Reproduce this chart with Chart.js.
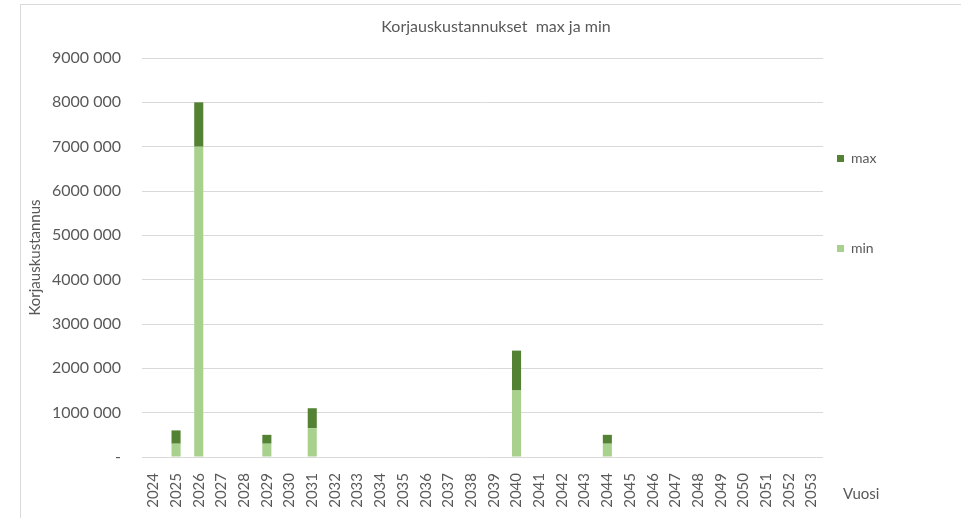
<!DOCTYPE html>
<html>
<head>
<meta charset="utf-8">
<script src="https://cdn.jsdelivr.net/npm/chart.js@4"></script>
<style>
  html, body { margin: 0; padding: 0; background: #fff; }
  #wrap { width: 961px; height: 518px; position: relative; }
</style>
</head>
<body>
<div id="wrap"><canvas id="repair-chart" width="961" height="518"></canvas></div>
<script>
// Vuodet (x-akseli)
var years = ['2024', '2025', '2026', '2027', '2028', '2029', '2030', '2031', '2032', '2033',
  '2034', '2035', '2036', '2037', '2038', '2039', '2040', '2041', '2042', '2043',
  '2044', '2045', '2046', '2047', '2048', '2049', '2050', '2051', '2052', '2053'];

// min-osuus (alaosa pinosta)
var minValues = [null, 300000, 7000000, null, null, 300000, null, 650000, null, null,
  null, null, null, null, null, null, 1500000, null, null, null,
  300000, null, null, null, null, null, null, null, null, null];

// max-osuus (pinon yläosa, max - min)
var maxValues = [null, 300000, 1000000, null, null, 200000, null, 450000, null, null,
  null, null, null, null, null, null, 900000, null, null, null,
  200000, null, null, null, null, null, null, null, null, null];

// y-akselin tekstit Excelin muotoilulla
var yTickLabels = {
  0: '-', 1000000: '1000 000', 2000000: '2000 000', 3000000: '3000 000', 4000000: '4000 000',
  5000000: '5000 000', 6000000: '6000 000', 7000000: '7000 000', 8000000: '8000 000', 9000000: '9000 000'
};

var textColor = '#595959';
var gridColor = '#d9d9d9';
var fontFamily = 'Lato, "Open Sans", sans-serif';

// Otsikko, legenda, akselin nimi ja kehys piirretään itse
var extrasPlugin = {
  id: 'extras',
  afterDraw: function (chart) {
    var ctx = chart.ctx;
    ctx.save();
    // kehys
    ctx.strokeStyle = gridColor;
    ctx.lineWidth = 1;
    ctx.strokeRect(20.5, 4.5, 960, 600);

    ctx.fillStyle = textColor;
    ctx.textBaseline = 'middle';
    ctx.font = '16px ' + fontFamily;
    ctx.textAlign = 'center';
    ctx.fillText('Korjauskustannukset  max ja min', 496, 27);

    // x-akselin nimi
    ctx.font = '15px ' + fontFamily;
    ctx.textAlign = 'left';
    ctx.fillText('Vuosi', 843, 494);

    // legenda
    var items = [
      { label: 'max', color: chart.data.datasets[1].backgroundColor, y: 158 },
      { label: 'min', color: chart.data.datasets[0].backgroundColor, y: 248 }
    ];
    ctx.font = '14px ' + fontFamily;
    items.forEach(function (it) {
      ctx.fillStyle = it.color;
      ctx.fillRect(837, it.y - 3, 7, 7);
      ctx.fillStyle = textColor;
      ctx.fillText(it.label, 851, it.y);
    });
    ctx.restore();
  }
};

var ctx = document.getElementById('repair-chart').getContext('2d');
var chart = new Chart(ctx, {
  type: 'bar',
  data: {
    labels: years,
    datasets: [{
      label: 'min',
      data: minValues,
      backgroundColor: '#a9d18e',
      barPercentage: 0.4,
      categoryPercentage: 1
    }, {
      label: 'max',
      data: maxValues,
      backgroundColor: '#548235',
      barPercentage: 0.4,
      categoryPercentage: 1
    }]
  },
  options: {
    responsive: false,
    animation: false,
    layout: {
      padding: { left: 20, right: 138, top: 58, bottom: 0 }
    },
    scales: {
      x: {
        stacked: true,
        grid: { display: false },
        border: { display: false },
        ticks: {
          color: textColor,
          font: { family: fontFamily, size: 15 },
          minRotation: 90,
          maxRotation: 90,
          padding: 8,
          autoSkip: false
        },
        afterFit: function (scale) { scale.height = 61; }
      },
      y: {
        stacked: true,
        min: 0,
        max: 9000000,
        grid: { color: gridColor, drawTicks: false },
        border: { display: false },
        ticks: {
          stepSize: 1000000,
          color: textColor,
          font: { family: fontFamily, size: 16 },
          padding: 21,
          callback: function (value) { return yTickLabels[value]; }
        },
        title: {
          display: true,
          text: 'Korjauskustannus',
          color: textColor,
          font: { family: fontFamily, size: 15 },
          padding: { top: 6, bottom: 0 }
        },
        afterFit: function (scale) { scale.width = 122; }
      }
    },
    plugins: {
      legend: { display: false },
      tooltip: { enabled: false }
    }
  },
  plugins: [extrasPlugin]
});
</script>
</body>
</html>
